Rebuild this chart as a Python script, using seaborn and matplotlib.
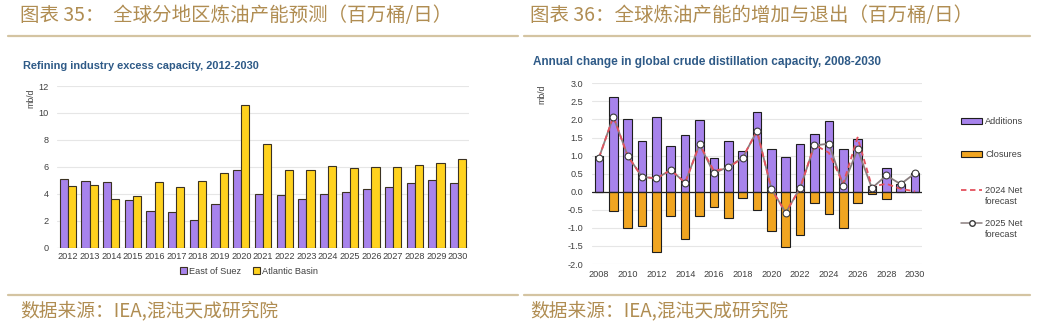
import numpy as np
import pandas as pd
import matplotlib
matplotlib.use("Agg")
import matplotlib.pyplot as plt
import seaborn as sns
from matplotlib.patches import Patch
from matplotlib.lines import Line2D

sns.set_theme(style="white")
plt.rcParams['font.family'] = ['Liberation Sans', 'Noto Sans CJK SC', 'DejaVu Sans']

# ---- left panel: refining industry excess capacity (mb/d) ----
years_l = [str(y) for y in range(2012, 2031)]
east_of_suez = [5.07, 4.95, 4.85, 3.54, 2.72, 2.62, 2.03, 3.24, 5.77, 3.96,
                3.91, 3.59, 4.01, 4.11, 4.33, 4.53, 4.78, 5.02, 4.83]
atlantic_basin = [4.58, 4.63, 3.59, 3.84, 4.88, 4.50, 4.95, 5.52, 10.62, 7.70,
                  5.74, 5.74, 6.04, 5.92, 5.99, 5.97, 6.11, 6.31, 6.58]
regions = ['East of Suez', 'Atlantic Basin']

# ---- right panel: annual change in crude distillation capacity (mb/d) ----
years_r = list(range(2008, 2031))
additions = [0.99, 2.62, 2.01, 1.39, 2.06, 1.27, 1.56, 1.99, 0.94, 1.41, 1.13, 2.20,
             1.17, 0.95, 1.32, 1.61, 1.95, 1.18, 1.47, 0.17, 0.66, 0.20, 0.52]
closures = [-0.02, -0.53, -1.01, -0.94, -1.68, -0.67, -1.31, -0.67, -0.42, -0.72, -0.17, -0.51,
            -1.08, -1.52, -1.20, -0.31, -0.62, -1.01, -0.30, -0.06, -0.20, 0.0, 0.0]
net_2025 = [0.94, 2.08, 0.99, 0.41, 0.37, 0.60, 0.25, 1.31, 0.51, 0.69, 0.94, 1.68,
            0.08, -0.58, 0.10, 1.28, 1.33, 0.17, 1.17, 0.10, 0.45, 0.21, 0.51]
net_2024 = [0.94, 2.08, 0.99, 0.41, 0.37, 0.60, 0.25, 1.31, 0.58, 0.66, 0.94, 1.68,
            0.08, -0.58, 0.10, 1.30, 1.08, 0.22, 1.50, 0.14, 0.22, 0.08, 0.01]

# ---- styling ----
W, H = 1037, 326
PURPLE = '#A783EC'
YELLOW = '#FFD21E'
ORANGE = '#F0A521'
RED = '#E4525E'
GRAY = '#8A7E7F'
TITLE_BLUE = '#2E5A87'
GOLD = '#B08D52'
RULE = '#D4C4A2'
TICK = '#404040'
GRID = '#E6E6E6'
CJK = ['Noto Sans CJK SC', 'DejaVu Sans']


def fx(px):
    return px / W


def fy(py):
    return 1 - py / H


def top_align_handles(leg):
    # keep each handle level with the first line of a two-line label
    for column in leg._legend_handle_box.get_children():
        for row in column.get_children():
            row.align = 'top'


fig = plt.figure(figsize=(W / 100, H / 100), dpi=100)
fig.patch.set_facecolor('white')

# report headers, rules and source lines
fig.text(fx(20), fy(15), "图表 35：  全球分地区炼油产能预测（百万桶/日）",
         family=CJK, fontsize=14, color=GOLD, va='center', ha='left')
fig.text(fx(530), fy(15), "图表 36：全球炼油产能的增加与退出（百万桶/日）",
         family=CJK, fontsize=14, color=GOLD, va='center', ha='left')
for x0, x1 in [(8, 518), (524, 1030)]:
    fig.add_artist(Line2D([fx(x0), fx(x1)], [fy(36), fy(36)], color=RULE, lw=1.6))
    fig.add_artist(Line2D([fx(x0), fx(x1)], [fy(295), fy(295)], color=RULE, lw=1.6))
fig.text(fx(20), fy(311), "数据来源：IEA,混沌天成研究院",
         family=CJK, fontsize=13.5, color=GOLD, va='center', ha='left')
fig.text(fx(530), fy(311), "数据来源：IEA,混沌天成研究院",
         family=CJK, fontsize=13.5, color=GOLD, va='center', ha='left')

# chart subtitles
fig.text(fx(23), fy(66), "Refining industry excess capacity, 2012-2030",
         fontsize=7.9, weight='bold', color=TITLE_BLUE, va='center', ha='left')
fig.text(fx(533), fy(62), "Annual change in global crude distillation capacity, 2008-2030",
         fontsize=8.5, weight='bold', color=TITLE_BLUE, va='center', ha='left')

# ---------------- left chart ----------------
axL = fig.add_axes([fx(57), fy(247.7), (469 - 57) / W, (247.7 - 86) / H])
df_l = pd.DataFrame({
    'year': years_l * 2,
    'region': [regions[0]] * len(years_l) + [regions[1]] * len(years_l),
    'value': east_of_suez + atlantic_basin,
})
sns.barplot(data=df_l, x='year', y='value', hue='region', hue_order=regions,
            palette=[PURPLE, YELLOW], saturation=1, width=0.75, errorbar=None,
            edgecolor='#3B3222', linewidth=0.8, ax=axL, zorder=3)
axL.set_ylim(0, 12)
axL.set_xlim(-0.5, len(years_l) - 0.5)
axL.set_yticks(range(0, 13, 2))
axL.grid(axis='y', color=GRID, lw=0.8, zorder=0)
axL.set_axisbelow(True)
for s in axL.spines.values():
    s.set_visible(False)
axL.axhline(0, color='#CFCFCF', lw=0.9, zorder=2)
axL.tick_params(axis='both', length=0, labelsize=6.6, labelcolor=TICK)
axL.tick_params(axis='y', pad=6)
axL.tick_params(axis='x', pad=3)
axL.set_xlabel('')
axL.set_ylabel('')
fig.text(fx(31), fy(98), 'mb/d', rotation=90, fontsize=6.3, color=TICK, va='center', ha='center')
hL, lL = axL.get_legend_handles_labels()
axL.legend(hL, lL, loc='center', bbox_to_anchor=(fx(249), fy(271)),
           bbox_transform=fig.transFigure, ncol=2, frameon=False, fontsize=6.6,
           handlelength=0.7, handleheight=0.7, handletextpad=0.2, columnspacing=1.4,
           labelcolor=TICK)

# ---------------- right chart ----------------
axR = fig.add_axes([fx(591.8), fy(264), (922.2 - 591.8) / W, (264 - 83.3) / H])
sns.barplot(x=years_r, y=additions, native_scale=True, color=PURPLE, saturation=1,
            width=0.6, errorbar=None, edgecolor='#1E1E1E', linewidth=0.8, ax=axR, zorder=3)
sns.barplot(x=years_r, y=closures, native_scale=True, color=ORANGE, saturation=1,
            width=0.6, errorbar=None, edgecolor='#1E1E1E', linewidth=0.8, ax=axR, zorder=3)
axR.axhline(0, color='#222222', lw=0.9, zorder=4)
sns.lineplot(x=years_r, y=net_2025, color=GRAY, lw=1.3, ax=axR, zorder=5)
sns.lineplot(x=years_r, y=net_2024, color=RED, lw=1.3, linestyle=(0, (3, 2)), ax=axR, zorder=6)
sns.scatterplot(x=years_r, y=net_2025, s=24, color='white', edgecolor='#3A3A3A',
                linewidth=0.8, ax=axR, zorder=7)
axR.set_ylim(-2, 3)
axR.set_xlim(years_r[0] - 0.5, years_r[-1] + 0.5)
axR.set_yticks(np.arange(-2, 3.01, 0.5))
axR.set_yticklabels([f'{v:.1f}' for v in np.arange(-2, 3.01, 0.5)])
axR.set_xticks(years_r[::2])
axR.set_xticklabels([str(y) for y in years_r[::2]])
axR.grid(axis='y', color=GRID, lw=0.8, zorder=0)
axR.set_axisbelow(True)
for s in axR.spines.values():
    s.set_visible(False)
axR.tick_params(axis='both', length=0, labelsize=6.6, labelcolor=TICK)
axR.tick_params(axis='y', pad=6)
axR.tick_params(axis='x', pad=4)
axR.set_xlabel('')
axR.set_ylabel('')
fig.text(fx(542), fy(94), 'mb/d', rotation=90, fontsize=6.3, color=TICK, va='center', ha='center')

bar_handles = [Patch(facecolor=PURPLE, edgecolor='#1E1E1E', lw=0.8, label='Additions'),
               Patch(facecolor=ORANGE, edgecolor='#1E1E1E', lw=0.8, label='Closures')]
line_handles = [Line2D([], [], color=RED, ls=(0, (3, 2)), lw=1.3, label='2024 Net\nforecast'),
                Line2D([], [], color=GRAY, lw=1.1, marker='o', mfc='white', mec='#3A3A3A',
                       ms=4, label='2025 Net\nforecast')]
fig.legend(handles=bar_handles, loc='upper left', bbox_to_anchor=(fx(953), fy(109)),
           frameon=False, fontsize=6.6, handlelength=2.3, handleheight=0.6,
           handletextpad=0.3, labelspacing=2.6, labelcolor=TICK)
legB = fig.legend(handles=line_handles, loc='upper left', bbox_to_anchor=(fx(953), fy(178)),
                  frameon=False, fontsize=6.6, handlelength=2.3, handleheight=0.9,
                  handletextpad=0.3, labelspacing=1.5, labelcolor=TICK)
top_align_handles(legB)

fig.savefig('out.png', dpi=100, facecolor='white')
